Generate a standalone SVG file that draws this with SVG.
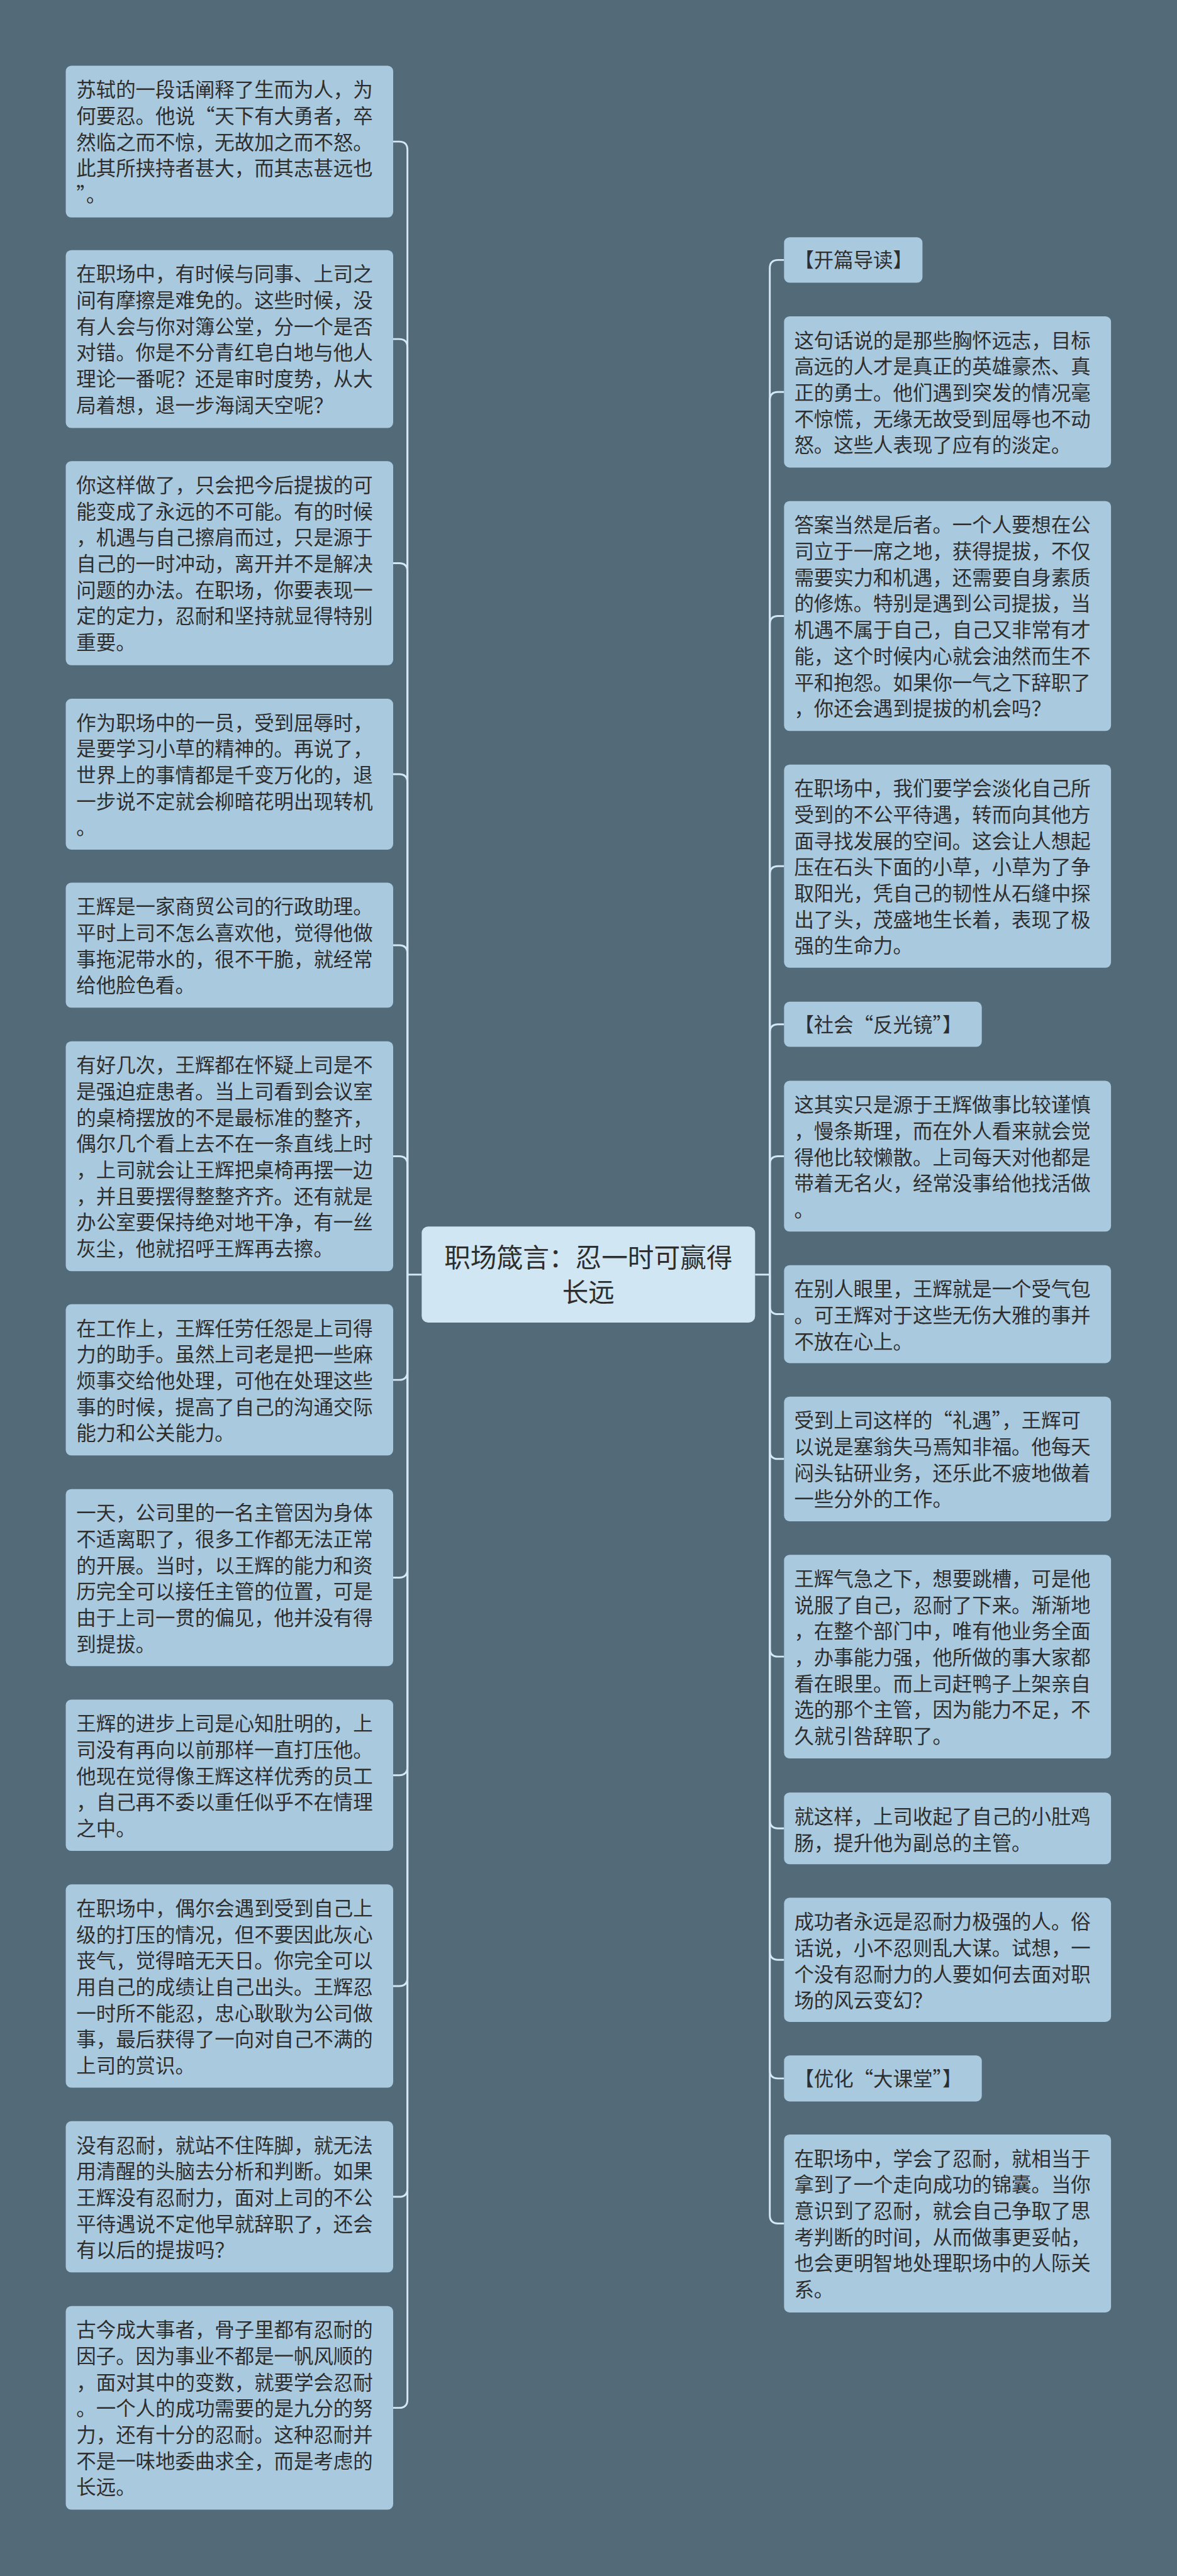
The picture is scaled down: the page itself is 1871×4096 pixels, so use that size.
<svg xmlns="http://www.w3.org/2000/svg" width="1871" height="4096" viewBox="0 0 1871 4096">
<style>
.bg{fill:#536a79}
.box{fill:#a9c9df}
.cbox{fill:#d0e6f2}
.t{font-family:"Noto Sans CJK SC","Noto Sans CJK JP",sans-serif;font-size:43px;fill:#2e2e2e}
.ct{font-family:"Noto Sans CJK SC","Noto Sans CJK JP",sans-serif;font-size:57px;fill:#2e2e2e;text-anchor:middle}
.conn path{fill:none;stroke:#d3e8f4;stroke-width:4}
</style>
<rect class="bg" x="0" y="0" width="1871" height="4096"/>
<g transform="scale(0.731)">
<g id="connectors" class="conn">
<path d="M917 2772.5H886"/>
<path d="M1642 2772.5H1674"/>
<path d="M886 2772.5V326Q886 308 868 308H855"/>
<path d="M886 2772.5V755.5Q886 737.5 868 737.5H855"/>
<path d="M886 2772.5V1243Q886 1225 868 1225H855"/>
<path d="M886 2772.5V1702Q886 1684 868 1684H855"/>
<path d="M886 2772.5V2074Q886 2056 868 2056H855"/>
<path d="M886 2772.5V2533Q886 2515 868 2515H855"/>
<path d="M886 2772.5V2983.5Q886 3001.5 868 3001.5H855"/>
<path d="M886 2772.5V3413.5Q886 3431.5 868 3431.5H855"/>
<path d="M886 2772.5V3843.5Q886 3861.5 868 3861.5H855"/>
<path d="M886 2772.5V4302Q886 4320 868 4320H855"/>
<path d="M886 2772.5V4760.5Q886 4778.5 868 4778.5H855"/>
<path d="M886 2772.5V5219.5Q886 5237.5 868 5237.5H855"/>
<path d="M1674 2772.5V583.5Q1674 565.5 1692 565.5H1705"/>
<path d="M1674 2772.5V870.5Q1674 852.5 1692 852.5H1705"/>
<path d="M1674 2772.5V1358Q1674 1340 1692 1340H1705"/>
<path d="M1674 2772.5V1902Q1674 1884 1692 1884H1705"/>
<path d="M1674 2772.5V2246Q1674 2228 1692 2228H1705"/>
<path d="M1674 2772.5V2533Q1674 2515 1692 2515H1705"/>
<path d="M1674 2772.5V2840.5Q1674 2858.5 1692 2858.5H1705"/>
<path d="M1674 2772.5V3155.5Q1674 3173.5 1692 3173.5H1705"/>
<path d="M1674 2772.5V3585.5Q1674 3603.5 1692 3603.5H1705"/>
<path d="M1674 2772.5V3959Q1674 3977 1692 3977H1705"/>
<path d="M1674 2772.5V4245Q1674 4263 1692 4263H1705"/>
<path d="M1674 2772.5V4503Q1674 4521 1692 4521H1705"/>
<path d="M1674 2772.5V4818.5Q1674 4836.5 1692 4836.5H1705"/>
</g>

<g id="center">
<rect class="cbox" x="917" y="2668" width="725" height="209" rx="14"/>
<text class="ct" x="1279.5" y="2757">职场箴言：忍一时可赢得</text>
<text class="ct" x="1279.5" y="2832">长远</text>
</g>

<g id="L1">
<rect class="box" x="143" y="143" width="712" height="330" rx="12"/>
<text class="t" x="166" y="211">苏轼的一段话阐释了生而为人，为</text>
<text class="t" x="166" y="268">何要忍。他说“天下有大勇者，卒</text>
<text class="t" x="166" y="325">然临之而不惊，无故加之而不怒。</text>
<text class="t" x="166" y="382">此其所挟持者甚大，而其志甚远也</text>
<text class="t" x="166" y="439">”。</text>
</g>
<g id="L2">
<rect class="box" x="143" y="544" width="712" height="387" rx="12"/>
<text class="t" x="166" y="612">在职场中，有时候与同事、上司之</text>
<text class="t" x="166" y="669">间有摩擦是难免的。这些时候，没</text>
<text class="t" x="166" y="726">有人会与你对簿公堂，分一个是否</text>
<text class="t" x="166" y="783">对错。你是不分青红皂白地与他人</text>
<text class="t" x="166" y="840">理论一番呢？还是审时度势，从大</text>
<text class="t" x="166" y="897">局着想，退一步海阔天空呢？</text>
</g>
<g id="L3">
<rect class="box" x="143" y="1003" width="712" height="444" rx="12"/>
<text class="t" x="166" y="1071">你这样做了，只会把今后提拔的可</text>
<text class="t" x="166" y="1128">能变成了永远的不可能。有的时候</text>
<text class="t" x="166" y="1185">，机遇与自己擦肩而过，只是源于</text>
<text class="t" x="166" y="1242">自己的一时冲动，离开并不是解决</text>
<text class="t" x="166" y="1299">问题的办法。在职场，你要表现一</text>
<text class="t" x="166" y="1356">定的定力，忍耐和坚持就显得特别</text>
<text class="t" x="166" y="1413">重要。</text>
</g>
<g id="L4">
<rect class="box" x="143" y="1520" width="712" height="328" rx="12"/>
<text class="t" x="166" y="1588">作为职场中的一员，受到屈辱时，</text>
<text class="t" x="166" y="1645">是要学习小草的精神的。再说了，</text>
<text class="t" x="166" y="1702">世界上的事情都是千变万化的，退</text>
<text class="t" x="166" y="1759">一步说不定就会柳暗花明出现转机</text>
<text class="t" x="166" y="1816">。</text>
</g>
<g id="L5">
<rect class="box" x="143" y="1920" width="712" height="272" rx="12"/>
<text class="t" x="166" y="1988">王辉是一家商贸公司的行政助理。</text>
<text class="t" x="166" y="2045">平时上司不怎么喜欢他，觉得他做</text>
<text class="t" x="166" y="2102">事拖泥带水的，很不干脆，就经常</text>
<text class="t" x="166" y="2159">给他脸色看。</text>
</g>
<g id="L6">
<rect class="box" x="143" y="2265" width="712" height="500" rx="12"/>
<text class="t" x="166" y="2333">有好几次，王辉都在怀疑上司是不</text>
<text class="t" x="166" y="2390">是强迫症患者。当上司看到会议室</text>
<text class="t" x="166" y="2447">的桌椅摆放的不是最标准的整齐，</text>
<text class="t" x="166" y="2504">偶尔几个看上去不在一条直线上时</text>
<text class="t" x="166" y="2561">，上司就会让王辉把桌椅再摆一边</text>
<text class="t" x="166" y="2618">，并且要摆得整整齐齐。还有就是</text>
<text class="t" x="166" y="2675">办公室要保持绝对地干净，有一丝</text>
<text class="t" x="166" y="2732">灰尘，他就招呼王辉再去擦。</text>
</g>
<g id="L7">
<rect class="box" x="143" y="2837" width="712" height="329" rx="12"/>
<text class="t" x="166" y="2905">在工作上，王辉任劳任怨是上司得</text>
<text class="t" x="166" y="2962">力的助手。虽然上司老是把一些麻</text>
<text class="t" x="166" y="3019">烦事交给他处理，可他在处理这些</text>
<text class="t" x="166" y="3076">事的时候，提高了自己的沟通交际</text>
<text class="t" x="166" y="3133">能力和公关能力。</text>
</g>
<g id="L8">
<rect class="box" x="143" y="3239" width="712" height="385" rx="12"/>
<text class="t" x="166" y="3307">一天，公司里的一名主管因为身体</text>
<text class="t" x="166" y="3364">不适离职了，很多工作都无法正常</text>
<text class="t" x="166" y="3421">的开展。当时，以王辉的能力和资</text>
<text class="t" x="166" y="3478">历完全可以接任主管的位置，可是</text>
<text class="t" x="166" y="3535">由于上司一贯的偏见，他并没有得</text>
<text class="t" x="166" y="3592">到提拔。</text>
</g>
<g id="L9">
<rect class="box" x="143" y="3697" width="712" height="329" rx="12"/>
<text class="t" x="166" y="3765">王辉的进步上司是心知肚明的，上</text>
<text class="t" x="166" y="3822">司没有再向以前那样一直打压他。</text>
<text class="t" x="166" y="3879">他现在觉得像王辉这样优秀的员工</text>
<text class="t" x="166" y="3936">，自己再不委以重任似乎不在情理</text>
<text class="t" x="166" y="3993">之中。</text>
</g>
<g id="L10">
<rect class="box" x="143" y="4099" width="712" height="442" rx="12"/>
<text class="t" x="166" y="4167">在职场中，偶尔会遇到受到自己上</text>
<text class="t" x="166" y="4224">级的打压的情况，但不要因此灰心</text>
<text class="t" x="166" y="4281">丧气，觉得暗无天日。你完全可以</text>
<text class="t" x="166" y="4338">用自己的成绩让自己出头。王辉忍</text>
<text class="t" x="166" y="4395">一时所不能忍，忠心耿耿为公司做</text>
<text class="t" x="166" y="4452">事，最后获得了一向对自己不满的</text>
<text class="t" x="166" y="4509">上司的赏识。</text>
</g>
<g id="L11">
<rect class="box" x="143" y="4614" width="712" height="329" rx="12"/>
<text class="t" x="166" y="4682">没有忍耐，就站不住阵脚，就无法</text>
<text class="t" x="166" y="4739">用清醒的头脑去分析和判断。如果</text>
<text class="t" x="166" y="4796">王辉没有忍耐力，面对上司的不公</text>
<text class="t" x="166" y="4853">平待遇说不定他早就辞职了，还会</text>
<text class="t" x="166" y="4910">有以后的提拔吗？</text>
</g>
<g id="L12">
<rect class="box" x="143" y="5016" width="712" height="443" rx="12"/>
<text class="t" x="166" y="5084">古今成大事者，骨子里都有忍耐的</text>
<text class="t" x="166" y="5141">因子。因为事业不都是一帆风顺的</text>
<text class="t" x="166" y="5198">，面对其中的变数，就要学会忍耐</text>
<text class="t" x="166" y="5255">。一个人的成功需要的是九分的努</text>
<text class="t" x="166" y="5312">力，还有十分的忍耐。这种忍耐并</text>
<text class="t" x="166" y="5369">不是一味地委曲求全，而是考虑的</text>
<text class="t" x="166" y="5426">长远。</text>
</g>

<g id="R1">
<rect class="box" x="1705" y="516" width="301" height="99" rx="12"/>
<text class="t" x="1727" y="582">【开篇导读】</text>
</g>
<g id="R2">
<rect class="box" x="1705" y="688" width="711" height="329" rx="12"/>
<text class="t" x="1727" y="756">这句话说的是那些胸怀远志，目标</text>
<text class="t" x="1727" y="813">高远的人才是真正的英雄豪杰、真</text>
<text class="t" x="1727" y="870">正的勇士。他们遇到突发的情况毫</text>
<text class="t" x="1727" y="927">不惊慌，无缘无故受到屈辱也不动</text>
<text class="t" x="1727" y="984">怒。这些人表现了应有的淡定。</text>
</g>
<g id="R3">
<rect class="box" x="1705" y="1090" width="711" height="500" rx="12"/>
<text class="t" x="1727" y="1158">答案当然是后者。一个人要想在公</text>
<text class="t" x="1727" y="1215">司立于一席之地，获得提拔，不仅</text>
<text class="t" x="1727" y="1272">需要实力和机遇，还需要自身素质</text>
<text class="t" x="1727" y="1329">的修炼。特别是遇到公司提拔，当</text>
<text class="t" x="1727" y="1386">机遇不属于自己，自己又非常有才</text>
<text class="t" x="1727" y="1443">能，这个时候内心就会油然而生不</text>
<text class="t" x="1727" y="1500">平和抱怨。如果你一气之下辞职了</text>
<text class="t" x="1727" y="1557">，你还会遇到提拔的机会吗？</text>
</g>
<g id="R4">
<rect class="box" x="1705" y="1663" width="711" height="442" rx="12"/>
<text class="t" x="1727" y="1731">在职场中，我们要学会淡化自己所</text>
<text class="t" x="1727" y="1788">受到的不公平待遇，转而向其他方</text>
<text class="t" x="1727" y="1845">面寻找发展的空间。这会让人想起</text>
<text class="t" x="1727" y="1902">压在石头下面的小草，小草为了争</text>
<text class="t" x="1727" y="1959">取阳光，凭自己的韧性从石缝中探</text>
<text class="t" x="1727" y="2016">出了头，茂盛地生长着，表现了极</text>
<text class="t" x="1727" y="2073">强的生命力。</text>
</g>
<g id="R5">
<rect class="box" x="1705" y="2179" width="430" height="98" rx="12"/>
<text class="t" x="1727" y="2245">【社会“反光镜”】</text>
</g>
<g id="R6">
<rect class="box" x="1705" y="2351" width="711" height="328" rx="12"/>
<text class="t" x="1727" y="2419">这其实只是源于王辉做事比较谨慎</text>
<text class="t" x="1727" y="2476">，慢条斯理，而在外人看来就会觉</text>
<text class="t" x="1727" y="2533">得他比较懒散。上司每天对他都是</text>
<text class="t" x="1727" y="2590">带着无名火，经常没事给他找活做</text>
<text class="t" x="1727" y="2647">。</text>
</g>
<g id="R7">
<rect class="box" x="1705" y="2752" width="711" height="213" rx="12"/>
<text class="t" x="1727" y="2820">在别人眼里，王辉就是一个受气包</text>
<text class="t" x="1727" y="2877">。可王辉对于这些无伤大雅的事并</text>
<text class="t" x="1727" y="2934">不放在心上。</text>
</g>
<g id="R8">
<rect class="box" x="1705" y="3038" width="711" height="271" rx="12"/>
<text class="t" x="1727" y="3106">受到上司这样的“礼遇”，王辉可</text>
<text class="t" x="1727" y="3163">以说是塞翁失马焉知非福。他每天</text>
<text class="t" x="1727" y="3220">闷头钻研业务，还乐此不疲地做着</text>
<text class="t" x="1727" y="3277">一些分外的工作。</text>
</g>
<g id="R9">
<rect class="box" x="1705" y="3382" width="711" height="443" rx="12"/>
<text class="t" x="1727" y="3450">王辉气急之下，想要跳槽，可是他</text>
<text class="t" x="1727" y="3507">说服了自己，忍耐了下来。渐渐地</text>
<text class="t" x="1727" y="3564">，在整个部门中，唯有他业务全面</text>
<text class="t" x="1727" y="3621">，办事能力强，他所做的事大家都</text>
<text class="t" x="1727" y="3678">看在眼里。而上司赶鸭子上架亲自</text>
<text class="t" x="1727" y="3735">选的那个主管，因为能力不足，不</text>
<text class="t" x="1727" y="3792">久就引咎辞职了。</text>
</g>
<g id="R10">
<rect class="box" x="1705" y="3899" width="711" height="156" rx="12"/>
<text class="t" x="1727" y="3967">就这样，上司收起了自己的小肚鸡</text>
<text class="t" x="1727" y="4024">肠，提升他为副总的主管。</text>
</g>
<g id="R11">
<rect class="box" x="1705" y="4128" width="711" height="270" rx="12"/>
<text class="t" x="1727" y="4196">成功者永远是忍耐力极强的人。俗</text>
<text class="t" x="1727" y="4253">话说，小不忍则乱大谋。试想，一</text>
<text class="t" x="1727" y="4310">个没有忍耐力的人要如何去面对职</text>
<text class="t" x="1727" y="4367">场的风云变幻？</text>
</g>
<g id="R12">
<rect class="box" x="1705" y="4471" width="430" height="100" rx="12"/>
<text class="t" x="1727" y="4537">【优化“大课堂”】</text>
</g>
<g id="R13">
<rect class="box" x="1705" y="4643" width="711" height="387" rx="12"/>
<text class="t" x="1727" y="4711">在职场中，学会了忍耐，就相当于</text>
<text class="t" x="1727" y="4768">拿到了一个走向成功的锦囊。当你</text>
<text class="t" x="1727" y="4825">意识到了忍耐，就会自己争取了思</text>
<text class="t" x="1727" y="4882">考判断的时间，从而做事更妥帖，</text>
<text class="t" x="1727" y="4939">也会更明智地处理职场中的人际关</text>
<text class="t" x="1727" y="4996">系。</text>
</g>
</g>
</svg>
